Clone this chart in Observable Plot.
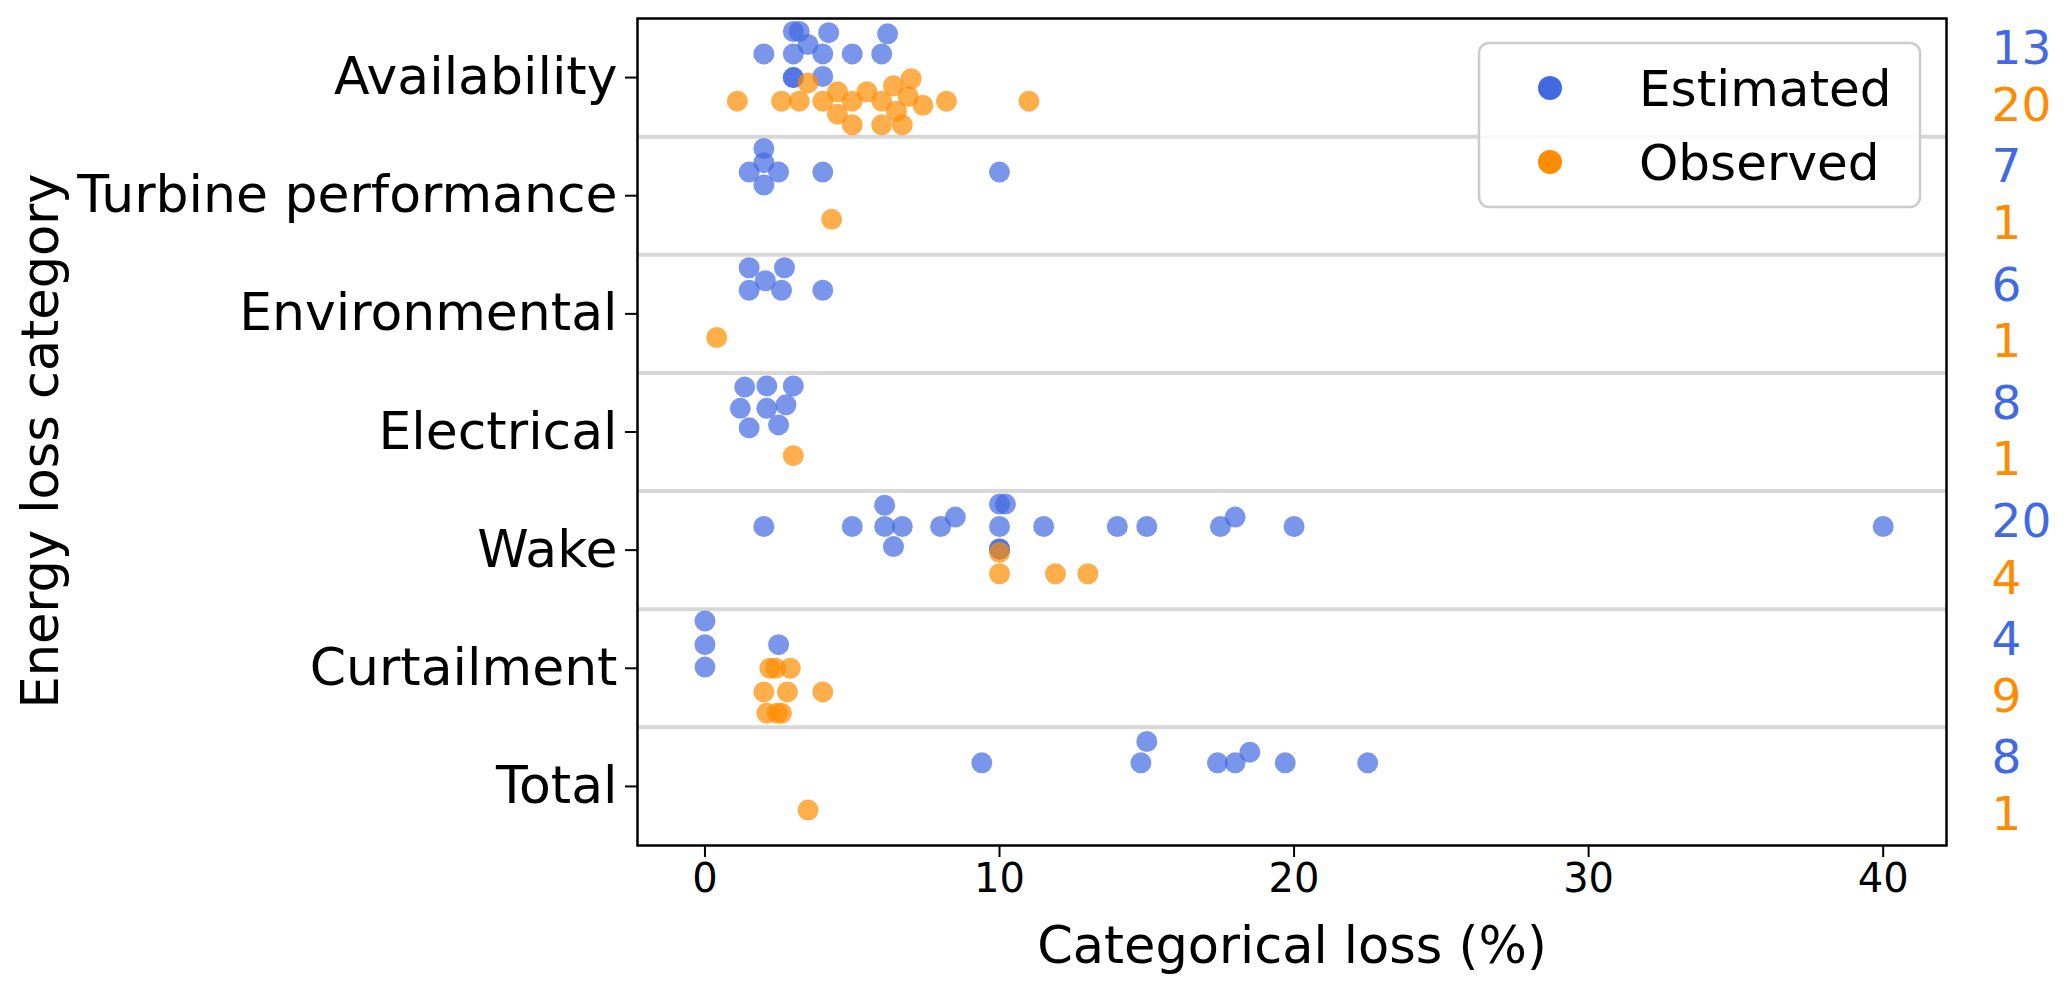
<!DOCTYPE html>
<html>
<head>
<meta charset="utf-8">
<script src="https://cdn.jsdelivr.net/npm/d3@7"></script>
<script src="https://cdn.jsdelivr.net/npm/@observablehq/plot@0.6"></script>
<style>
  html, body { margin: 0; padding: 0; background: white; }
  svg { display: block; }
</style>
</head>
<body>
<div id="chart"></div>
<script>
// ---------- data ----------
const categories = ["Availability", "Turbine performance", "Environmental", "Electrical", "Wake", "Curtailment", "Total"];
const series = ["Estimated", "Observed"];
const seriesColors = ["#4169E1", "#FF8C00"];
const xTicks = [0, 10, 20, 30, 40];
const xLabel = "Categorical loss (%)";
const yLabel = "Energy loss category";

// [category, loss %, jitter (category units)]
const estimated = [
  ["Availability", 3.0, -0.19], ["Availability", 3.2, -0.19], ["Availability", 4.2, -0.18], ["Availability", 6.2, -0.17],
  ["Availability", 3.5, -0.08], ["Availability", 2.0, 0], ["Availability", 3.0, 0], ["Availability", 4.0, 0],
  ["Availability", 5.0, 0], ["Availability", 6.0, 0], ["Availability", 3.0, 0.2], ["Availability", 3.0, 0.2],
  ["Availability", 4.0, 0.19],
  ["Turbine performance", 2.0, -0.2], ["Turbine performance", 2.0, -0.08], ["Turbine performance", 1.5, 0],
  ["Turbine performance", 2.5, 0], ["Turbine performance", 2.0, 0.11], ["Turbine performance", 4.0, 0],
  ["Turbine performance", 10.0, 0],
  ["Environmental", 1.5, -0.19], ["Environmental", 2.7, -0.19], ["Environmental", 2.05, -0.08],
  ["Environmental", 1.5, 0], ["Environmental", 2.6, 0], ["Environmental", 4.0, 0],
  ["Electrical", 1.35, -0.18], ["Electrical", 2.1, -0.19], ["Electrical", 3.0, -0.19], ["Electrical", 1.2, 0],
  ["Electrical", 2.1, 0], ["Electrical", 2.75, -0.03], ["Electrical", 1.5, 0.165], ["Electrical", 2.5, 0.14],
  ["Wake", 2.0, 0], ["Wake", 5.0, 0], ["Wake", 6.1, -0.18], ["Wake", 6.1, 0], ["Wake", 6.7, 0], ["Wake", 6.4, 0.17],
  ["Wake", 8.0, 0], ["Wake", 8.5, -0.08], ["Wake", 10.0, -0.19], ["Wake", 10.2, -0.19], ["Wake", 10.0, 0],
  ["Wake", 11.5, 0], ["Wake", 10.0, 0.19], ["Wake", 10.0, 0.19], ["Wake", 14.0, 0], ["Wake", 15.0, 0],
  ["Wake", 17.5, 0], ["Wake", 18.0, -0.08], ["Wake", 20.0, 0], ["Wake", 40.0, 0],
  ["Curtailment", 0.0, -0.2], ["Curtailment", 0.0, 0], ["Curtailment", 0.0, 0.19], ["Curtailment", 2.5, 0],
  ["Total", 15.0, -0.18], ["Total", 9.4, 0], ["Total", 14.8, 0], ["Total", 17.4, 0], ["Total", 18.0, 0],
  ["Total", 18.5, -0.09], ["Total", 19.7, 0], ["Total", 22.5, 0]
];

const observed = [
  ["Availability", 1.1, 0], ["Availability", 2.6, 0], ["Availability", 3.2, 0], ["Availability", 3.5, -0.155],
  ["Availability", 4.0, 0], ["Availability", 4.5, -0.08], ["Availability", 4.5, 0.11], ["Availability", 5.0, 0],
  ["Availability", 5.0, 0.2], ["Availability", 5.5, -0.08], ["Availability", 6.0, 0], ["Availability", 6.0, 0.2],
  ["Availability", 6.4, -0.13], ["Availability", 6.5, 0.085], ["Availability", 6.7, 0.2], ["Availability", 6.9, -0.04],
  ["Availability", 7.0, -0.19], ["Availability", 7.4, 0.035], ["Availability", 8.2, 0], ["Availability", 11.0, 0],
  ["Turbine performance", 4.3, 0],
  ["Environmental", 0.4, 0],
  ["Electrical", 3.0, 0],
  ["Wake", 10.0, -0.18], ["Wake", 10.0, 0], ["Wake", 11.9, 0], ["Wake", 13.0, 0],
  ["Curtailment", 2.2, -0.2], ["Curtailment", 2.4, -0.2], ["Curtailment", 2.9, -0.2], ["Curtailment", 2.0, 0],
  ["Curtailment", 2.8, 0], ["Curtailment", 4.0, 0], ["Curtailment", 2.1, 0.18], ["Curtailment", 2.45, 0.18],
  ["Curtailment", 2.6, 0.18],
  ["Total", 3.5, 0]
];

// ---------- build ----------
const DODGE = 0.2;
const FONT = "DejaVu Sans, sans-serif";
const catIndex = new Map(categories.map((c, i) => [c, i]));
const toRows = (arr, s) => arr.map(([cat, v, j]) => ({
  series: s, cat, value: v,
  ypos: catIndex.get(cat) + (s === series[0] ? -DODGE : DODGE) + j
}));
const estRows = toRows(estimated, series[0]);
const obsRows = toRows(observed, series[1]);

const counts = [];
categories.forEach((c, i) => {
  counts.push({series: series[0], n: estimated.filter(d => d[0] === c).length, ypos: i - 0.24});
  counts.push({series: series[1], n: observed.filter(d => d[0] === c).length, ypos: i + 0.24});
});
const separators = d3.range(1, categories.length).map(i => i - 0.5);

const chart = Plot.plot({
  width: 2067,
  height: 996,
  marginLeft: 637,
  marginRight: 121,
  marginTop: 18,
  marginBottom: 151,
  style: {fontFamily: FONT, background: "white", color: "black"},
  x: {domain: [-2.29, 42.15]},
  y: {domain: [categories.length - 0.5, -0.5]},
  marks: [
    Plot.ruleY(separators, {stroke: "#d8d8d8", strokeWidth: 4}),
    Plot.dot(estRows, {x: "value", y: "ypos", r: 10.5, fill: seriesColors[0], fillOpacity: 0.7, stroke: "none"}),
    Plot.dot(obsRows, {x: "value", y: "ypos", r: 10.5, fill: seriesColors[1], fillOpacity: 0.7, stroke: "none"}),
    Plot.frame({stroke: "black", strokeWidth: 2.5}),
    Plot.axisX({ticks: xTicks, tickSize: 12, tickPadding: 6, fontSize: 40, label: null, strokeWidth: 2}),
    Plot.axisY({ticks: d3.range(categories.length), tickFormat: i => categories[i], tickSize: 12, tickPadding: 8, fontSize: 52, label: null, strokeWidth: 2}),
    Plot.text([xLabel], {frameAnchor: "bottom", dy: 117, fontSize: 51}),
    Plot.text(counts, {y: "ypos", text: "n", frameAnchor: "right", dx: 45, textAnchor: "start", fontSize: 47,
      fill: d => seriesColors[series.indexOf(d.series)]})
  ]
});

const svg = d3.select(chart);

// y-axis title
svg.append("text")
  .attr("transform", "translate(40,441) rotate(-90)")
  .attr("text-anchor", "middle")
  .attr("dy", "0.35em")
  .attr("font-family", FONT)
  .attr("font-size", 51)
  .attr("fill", "black")
  .text(yLabel);

// legend
const lg = svg.append("g").attr("font-family", FONT);
lg.append("rect")
  .attr("x", 1479).attr("y", 43).attr("width", 441).attr("height", 164).attr("rx", 10)
  .attr("fill", "white").attr("fill-opacity", 0.85)
  .attr("stroke", "#cccccc").attr("stroke-width", 2.5);
series.forEach((s, i) => {
  const cy = 88 + i * 74;
  lg.append("circle").attr("cx", 1550).attr("cy", cy).attr("r", 12).attr("fill", seriesColors[i]);
  lg.append("text").attr("x", 1639).attr("y", cy).attr("dy", "0.35em")
    .attr("text-anchor", "start")
    .attr("font-size", 50).attr("fill", "black").text(s);
});

document.getElementById("chart").appendChild(chart);
</script>
</body>
</html>
